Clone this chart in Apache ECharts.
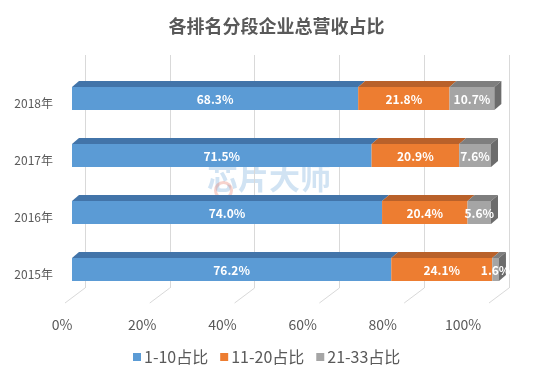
<!DOCTYPE html>
<html>
<head>
<meta charset="utf-8">
<script src="https://cdn.jsdelivr.net/npm/echarts@6/dist/echarts.min.js"></script>
<style>
  html, body { margin: 0; padding: 0; background: #fff; }
  #chart { width: 553px; height: 376px; }
</style>
</head>
<body>
<div id="chart"></div>
<script>
var categories = ['2015年', '2016年', '2017年', '2018年'];
var seriesNames = ['1-10占比', '11-20占比', '21-33占比'];
var top10 = [76.2, 74.0, 71.5, 68.3];
var mid20 = [24.1, 20.4, 20.9, 21.8];
var rest33 = [1.6, 5.6, 7.6, 10.7];
var tickValues = [0, 20, 40, 60, 80, 100];

(function () {
    var font = '"Noto Sans CJK SC", "Microsoft YaHei", sans-serif';
    var textColor = '#595959';
    var gridColor = '#d9d9d9';

    // front, top, side faces
    var faces = [
        {front: '#5B9BD5', top: '#4274A9', side: '#3E6C9C'},
        {front: '#ED7D31', top: '#B9612A', side: '#A95823'},
        {front: '#A5A5A5', top: '#7E7E7E', side: '#6C6C6C'}
    ];
    var values = [top10, mid20, rest33];
    var depthX = 7, depthY = -6, barH = 23, barUp = 16;

    // stacked start / end for each segment
    var segData = [];
    var acc = categories.map(function () { return 0; });
    for (var s = 0; s < values.length; s++) {
        var list = [];
        for (var i = 0; i < categories.length; i++) {
            var v = values[s][i];
            list.push([acc[i], acc[i] + v, i, v]);
            acc[i] += v;
        }
        segData.push(list);
    }

    function makeRender(idx, last) {
        return function (params, api) {
            var p0 = api.coord([api.value(0), api.value(2)]);
            var p1 = api.coord([api.value(1), api.value(2)]);
            var x0 = p0[0], x1 = p1[0], yt = p0[1] - barUp;
            var children = [
                {
                    type: 'polygon',
                    shape: {points: [[x0, yt], [x1, yt], [x1 + depthX, yt + depthY], [x0 + depthX, yt + depthY]]},
                    style: {fill: faces[idx].top}
                },
                {
                    type: 'rect',
                    shape: {x: x0, y: yt, width: x1 - x0, height: barH},
                    style: {fill: faces[idx].front}
                }
            ];
            if (last) {
                children.push({
                    type: 'polygon',
                    shape: {points: [[x1, yt], [x1 + depthX, yt + depthY], [x1 + depthX, yt + barH + depthY], [x1, yt + barH]]},
                    style: {fill: faces[idx].side}
                });
            }
            children.push({
                type: 'text',
                style: {
                    text: api.value(3).toFixed(1) + '%',
                    x: (x0 + x1) / 2,
                    y: yt + barH / 2 + 1,
                    align: 'center',
                    verticalAlign: 'middle',
                    fill: '#fff',
                    font: 'bold 12px ' + font
                },
                z2: 10
            });
            return {type: 'group', children: children};
        };
    }

    var series = [];
    for (var k = 0; k < segData.length; k++) {
        series.push({
            name: seriesNames[k],
            type: 'custom',
            xAxisIndex: 0,
            yAxisIndex: 0,
            clip: false,
            z: 5 + k,
            itemStyle: {color: faces[k].front},
            encode: {x: [0, 1], y: 2},
            renderItem: makeRender(k, k === segData.length - 1),
            data: segData[k]
        });
    }

    // floor lines under the back gridlines
    series.push({
        type: 'custom',
        xAxisIndex: 1,
        yAxisIndex: 1,
        clip: false,
        silent: true,
        z: 1,
        renderItem: function (params, api) {
            var p = api.coord([api.value(0), 0]);
            return {
                type: 'line',
                shape: {x1: p[0], y1: p[1], x2: p[0] - 20, y2: p[1] + 15},
                style: {stroke: gridColor, lineWidth: 1}
            };
        },
        data: tickValues.map(function (t) { return [t]; })
    });

    var option = {
        backgroundColor: '#fff',
        textStyle: {fontFamily: font},
        animation: false,
        title: {
            text: '各排名分段企业总营收占比',
            left: 'center',
            top: 12,
            textStyle: {fontSize: 18, fontWeight: 'bold', color: textColor, fontFamily: font}
        },
        legend: {
            data: seriesNames,
            bottom: 6,
            left: 128,
            icon: 'rect',
            itemWidth: 8,
            itemHeight: 8,
            itemGap: 12,
            textStyle: {fontSize: 16, color: textColor, fontFamily: font, padding: [0, 0, 0, -2]}
        },
        graphic: [
            {
                type: 'text',
                left: 207,
                top: 162,
                z: 0,
                style: {text: '芯片大师', font: 'bold 31px ' + font, fill: 'rgba(91,155,213,0.28)'}
            },
            {
                type: 'circle',
                left: 213,
                top: 180,
                z: 0,
                shape: {r: 8},
                style: {fill: 'none', stroke: 'rgba(230,110,90,0.3)', lineWidth: 3}
            }
        ],
        grid: [
            {left: 72, right: 62, top: 74.5, bottom: 73.5},
            {left: 85, right: 44, top: 55, bottom: 88},
            {left: 62, right: 90, top: 60, bottom: 64}
        ],
        xAxis: [
            {gridIndex: 0, type: 'value', min: 0, max: 100, show: false},
            {
                gridIndex: 1, type: 'value', min: 0, max: 100, interval: 20,
                axisLine: {show: false}, axisTick: {show: false}, axisLabel: {show: false},
                splitLine: {show: true, lineStyle: {color: gridColor, width: 1}}
            },
            {
                gridIndex: 2, type: 'value', min: 0, max: 100, interval: 20,
                axisLine: {show: false}, axisTick: {show: false}, splitLine: {show: false},
                axisLabel: {formatter: '{value}%', fontSize: 14, color: textColor, margin: 6, fontFamily: font}
            }
        ],
        yAxis: [
            {
                gridIndex: 0, type: 'category', data: categories,
                axisLine: {show: false}, axisTick: {show: false},
                axisLabel: {fontSize: 12, color: textColor, margin: 19, fontFamily: font}
            },
            {gridIndex: 1, type: 'value', min: 0, max: 1, show: false},
            {gridIndex: 2, type: 'value', min: 0, max: 1, show: false}
        ],
        series: series
    };

    var chart = echarts.init(document.getElementById('chart'));
    chart.setOption(option);
})();
</script>
</body>
</html>
